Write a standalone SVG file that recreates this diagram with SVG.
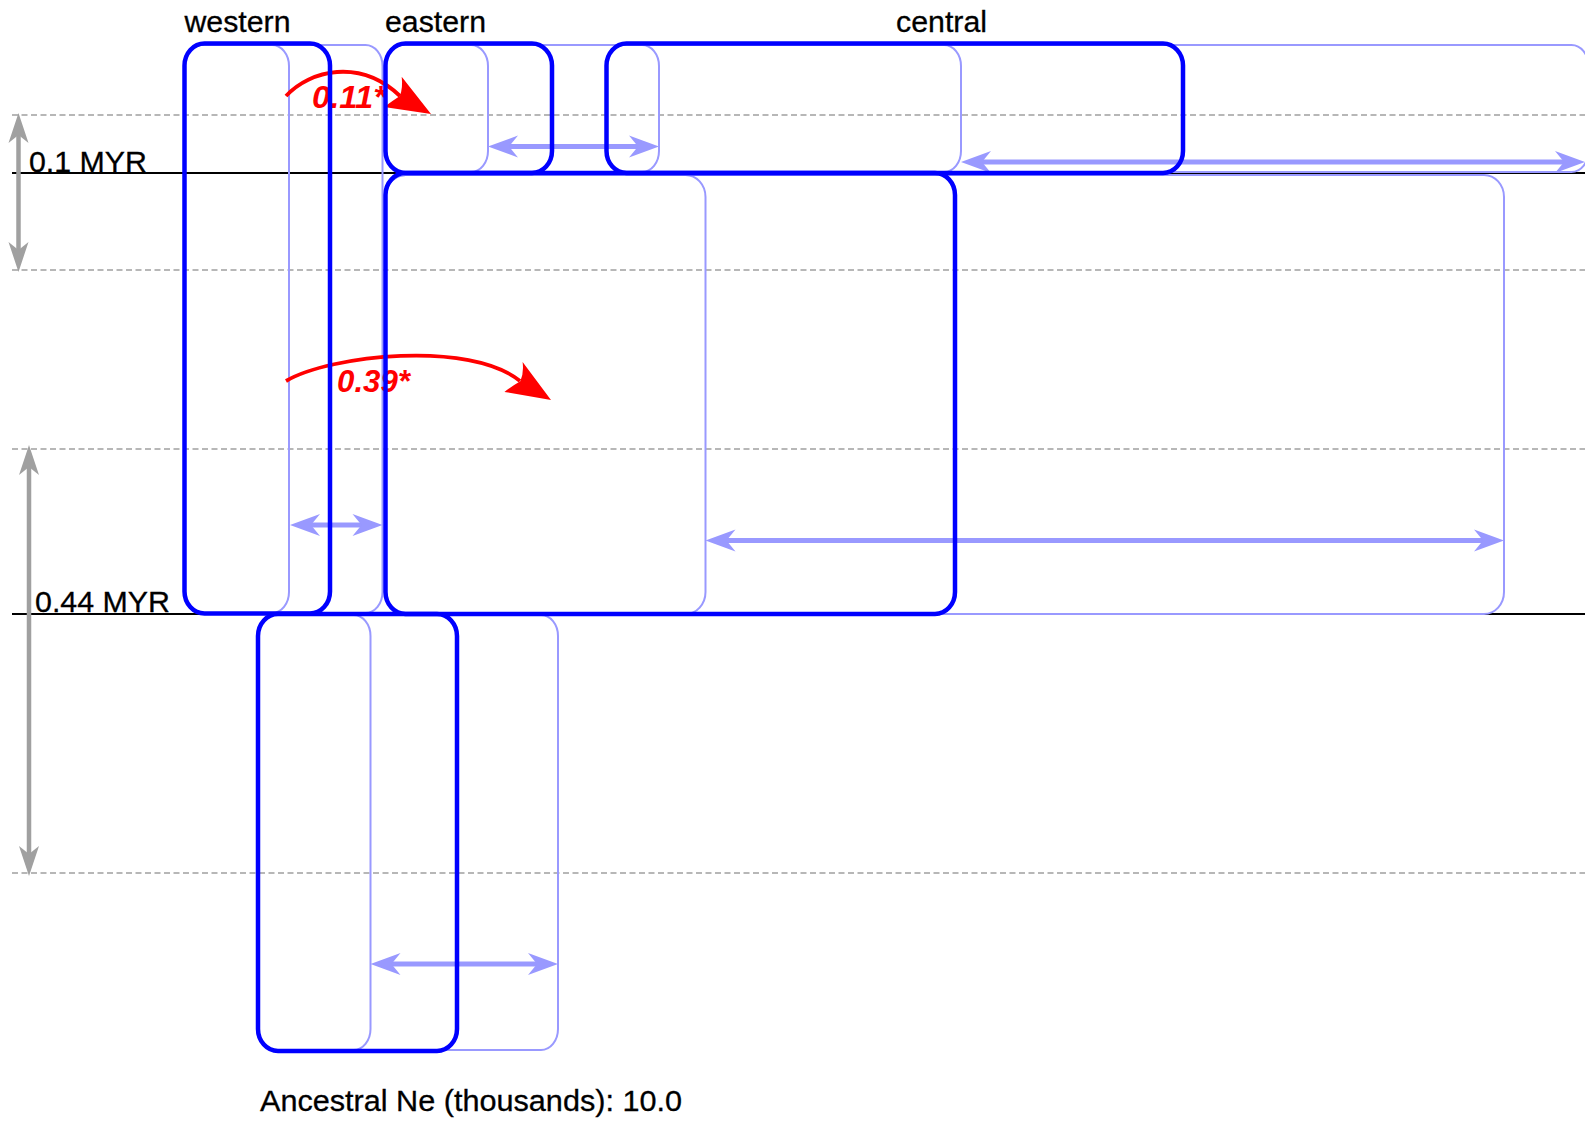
<svg xmlns="http://www.w3.org/2000/svg" width="1585" height="1121" viewBox="0 0 1585 1121">
<style>
.bg{fill:#ffffff}
.dash{stroke:#a0a0a0;stroke-width:1.6;stroke-dasharray:6 3.5;fill:none}
.solid{stroke:#000000;stroke-width:2;fill:none}
.gray{stroke:#a0a0a0;stroke-width:4.5;fill:none}
.pop{fill:none;stroke:#0000ff;stroke-width:4.5}
.ci{fill:none;stroke:#9999ff;stroke-width:2}
.ciarrow{stroke:#9999ff;stroke-width:5;fill:none}
.mig{stroke:#ff0000;stroke-width:3.8;fill:none}
.mighead{fill:#ff0000}
.lbl{font-family:"Liberation Sans",Arial,sans-serif;font-size:30px;fill:#000000;stroke:#000000;stroke-width:0.3}
.miglbl{font-family:"Liberation Sans",Arial,sans-serif;font-size:31px;font-weight:bold;font-style:italic;fill:#ff0000}
</style>
<defs>
<marker id="headLight" viewBox="-31 -12 32 24" markerWidth="32" markerHeight="24" refX="-17" refY="0" orient="auto-start-reverse" markerUnits="userSpaceOnUse" overflow="visible">
<path d="M0,0 L-30,-11 L-21,0 L-30,11 Z" fill="#9999ff"/>
</marker>
<marker id="headGray" viewBox="-31 -12 32 24" markerWidth="32" markerHeight="24" refX="-17" refY="0" orient="auto-start-reverse" markerUnits="userSpaceOnUse" overflow="visible">
<path d="M0,0 L-30,-10 L-22,0 L-30,10 Z" fill="#a0a0a0"/>
</marker>
</defs>
<rect class="bg" x="0" y="0" width="1585" height="1121"/>

<g id="timeLines">
<line class="dash" x1="12" y1="115" x2="1585" y2="115"/>
<line class="dash" x1="12" y1="270" x2="1585" y2="270"/>
<line class="dash" x1="12" y1="449" x2="1585" y2="449"/>
<line class="dash" x1="12" y1="873" x2="1585" y2="873"/>
<line class="solid" x1="12" y1="173" x2="1585" y2="173"/>
<line class="solid" x1="12" y1="614" x2="1585" y2="614"/>
</g>

<g id="timeArrows">
<line class="gray" x1="18.5" y1="130" x2="18.5" y2="255" marker-start="url(#headGray)" marker-end="url(#headGray)"/>
<line class="gray" x1="29" y1="462" x2="29" y2="859" marker-start="url(#headGray)" marker-end="url(#headGray)"/>
</g>

<g id="confidenceBoxes">
<rect class="ci" x="184.5" y="45" width="104.5" height="568" rx="17" ry="21"/>
<rect class="ci" x="184.5" y="45" width="198" height="568" rx="17" ry="21"/>
<rect class="ci" x="385.5" y="45" width="102.5" height="127" rx="17" ry="21"/>
<rect class="ci" x="385.5" y="45" width="273.5" height="127" rx="17" ry="21"/>
<rect class="ci" x="606.5" y="45" width="354.5" height="127" rx="17" ry="21"/>
<rect class="ci" x="606.5" y="45" width="982" height="127" rx="17" ry="21"/>
<rect class="ci" x="385.5" y="175" width="320" height="439" rx="20" ry="22"/>
<rect class="ci" x="385.5" y="175" width="1118.5" height="439" rx="20" ry="22"/>
<rect class="ci" x="258" y="615" width="112.5" height="435" rx="17" ry="21"/>
<rect class="ci" x="258" y="615" width="300" height="435" rx="17" ry="21"/>
</g>

<g id="connectors">
<line class="ciarrow" x1="307" y1="525" x2="365.5" y2="525" marker-start="url(#headLight)" marker-end="url(#headLight)"/>
<line class="ciarrow" x1="505" y1="146.5" x2="642" y2="146.5" marker-start="url(#headLight)" marker-end="url(#headLight)"/>
<line class="ciarrow" x1="978" y1="162" x2="1568" y2="162" marker-start="url(#headLight)" marker-end="url(#headLight)"/>
<line class="ciarrow" x1="722.5" y1="540.5" x2="1487" y2="540.5" marker-start="url(#headLight)" marker-end="url(#headLight)"/>
<line class="ciarrow" x1="387.5" y1="964" x2="541" y2="964" marker-start="url(#headLight)" marker-end="url(#headLight)"/>
<path class="mig" d="M286,96 C310,70 360,58 400,96"/>
<path class="mighead" d="M431,114 L401.7,76.8 Q403,88 399.9,95.9 Q392,101 384.1,107 Z"/>
<path class="mig" d="M286,381 C330,355 470,340 520,381"/>
<path class="mighead" d="M551,400 L522.6,362.1 Q524,373 520.3,381.2 Q512,386 504.4,391.9 Z"/>
<text class="miglbl" x="312" y="108" textLength="74" lengthAdjust="spacingAndGlyphs">0.11*</text>
<text class="miglbl" x="337" y="392" textLength="73" lengthAdjust="spacingAndGlyphs">0.39*</text>
</g>

<g id="western">
<rect class="pop" x="184.5" y="43.5" width="145.5" height="570" rx="20" ry="22"/>
<text class="lbl" x="184.5" y="32" textLength="106" lengthAdjust="spacingAndGlyphs">western</text>
</g>
<g id="eastern">
<rect class="pop" x="385.5" y="43.5" width="166.5" height="129.5" rx="20" ry="22"/>
<text class="lbl" x="385" y="32" textLength="101" lengthAdjust="spacingAndGlyphs">eastern</text>
</g>
<g id="central">
<rect class="pop" x="606.5" y="43.5" width="576.5" height="129.5" rx="20" ry="22"/>
<text class="lbl" x="896" y="32" textLength="91" lengthAdjust="spacingAndGlyphs">central</text>
</g>
<g id="eastern_central_ancestor">
<rect class="pop" x="385.5" y="173" width="569.5" height="441" rx="20" ry="22"/>
</g>
<g id="root">
<rect class="pop" x="258" y="614" width="199" height="437" rx="20" ry="22"/>
<text class="lbl" x="260" y="1111" textLength="422" lengthAdjust="spacingAndGlyphs">Ancestral Ne (thousands): 10.0</text>
</g>

<g id="timeLabels">
<text class="lbl" x="29" y="172" textLength="118" lengthAdjust="spacingAndGlyphs">0.1 MYR</text>
<text class="lbl" x="35" y="612" textLength="135" lengthAdjust="spacingAndGlyphs">0.44 MYR</text>
</g>
</svg>
